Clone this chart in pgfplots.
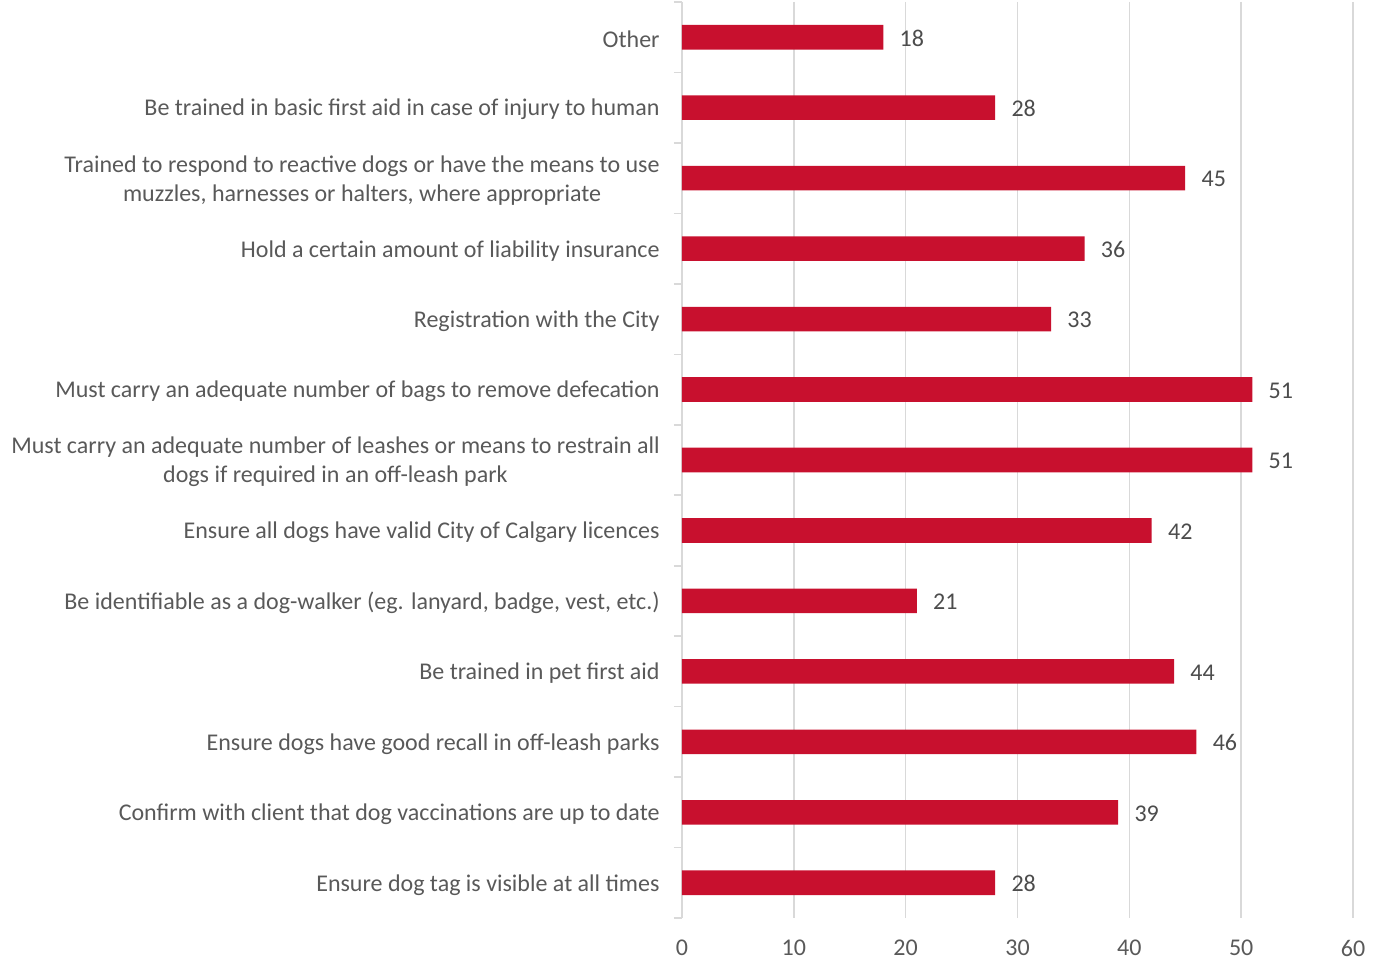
\documentclass[border=0pt]{standalone}
\usepackage{fontspec}
\setmainfont{Carlito}
\usepackage{pgfplots}
\pgfplotsset{compat=1.18}
\definecolor{barred}{HTML}{C8102E}
\definecolor{txtgray}{HTML}{595959}
\definecolor{gridgray}{HTML}{D9D9D9}

\begin{document}
\fontsize{12pt}{14.5pt}\selectfont
\begin{tikzpicture}
  \path[use as bounding box] (-341pt,-22.5pt) rectangle (348.5pt,459pt);
  \begin{axis}[
    at={(0,0)}, anchor=south west,
    scale only axis,
    width=335.5pt, height=458pt,
    xbar, bar width=12.3pt,
    xmin=0, xmax=60,
    ymin=-0.5, ymax=12.5,
    y dir=reverse,
    xtick={0,10,...,60},
    ytick={0,...,12},
    yticklabels={
      Other,
      Be trained in basic first aid in case of injury to human,
      {Trained to respond to reactive dogs or have the means to use\\muzzles, harnesses or halters, where appropriate},
      Hold a certain amount of liability insurance,
      Registration with the City,
      Must carry an adequate number of bags to remove defecation,
      {Must carry an adequate number of leashes or means to restrain all\\dogs if required in an off-leash park},
      Ensure all dogs have valid City of Calgary licences,
      {Be identifiable as a dog-walker (eg. lanyard, badge, vest, etc.)},
      Be trained in pet first aid,
      Ensure dogs have good recall in off-leash parks,
      Confirm with client that dog vaccinations are up to date,
      Ensure dog tag is visible at all times},
    minor ytick={-0.5,0.5,...,12.5},
    major tick length=0pt,
    minor tick length=4pt,
    tick align=outside,
    minor tick style={gridgray, line width=0.8pt},
    yticklabel style={align=center, font=\fontsize{12pt}{14.5pt}\selectfont, text=txtgray, xshift=-7pt, yshift=-1pt},
    xticklabel style={font=\fontsize{12pt}{14.5pt}\selectfont, text=txtgray, yshift=-7pt},
    /pgf/number format/assume math mode=true,
    xmajorgrids,
    grid style={gridgray, line width=0.8pt},
    axis x line*=bottom,
    x axis line style={draw=none},
    axis y line*=left,
    y axis line style={gridgray, line width=0.8pt, -},
    nodes near coords,
    every node near coord/.append style={font=\fontsize{12pt}{14.5pt}\selectfont, text=txtgray!85!black, anchor=west, xshift=4pt, yshift=-0.5pt},
  ]
    \addplot[fill=barred, draw=none] coordinates {
      (18,0) (28,1) (45,2) (36,3) (33,4) (51,5) (51,6)
      (42,7) (21,8) (44,9) (46,10) (39,11) (28,12)
    };
  \end{axis}
\end{tikzpicture}
\end{document}
